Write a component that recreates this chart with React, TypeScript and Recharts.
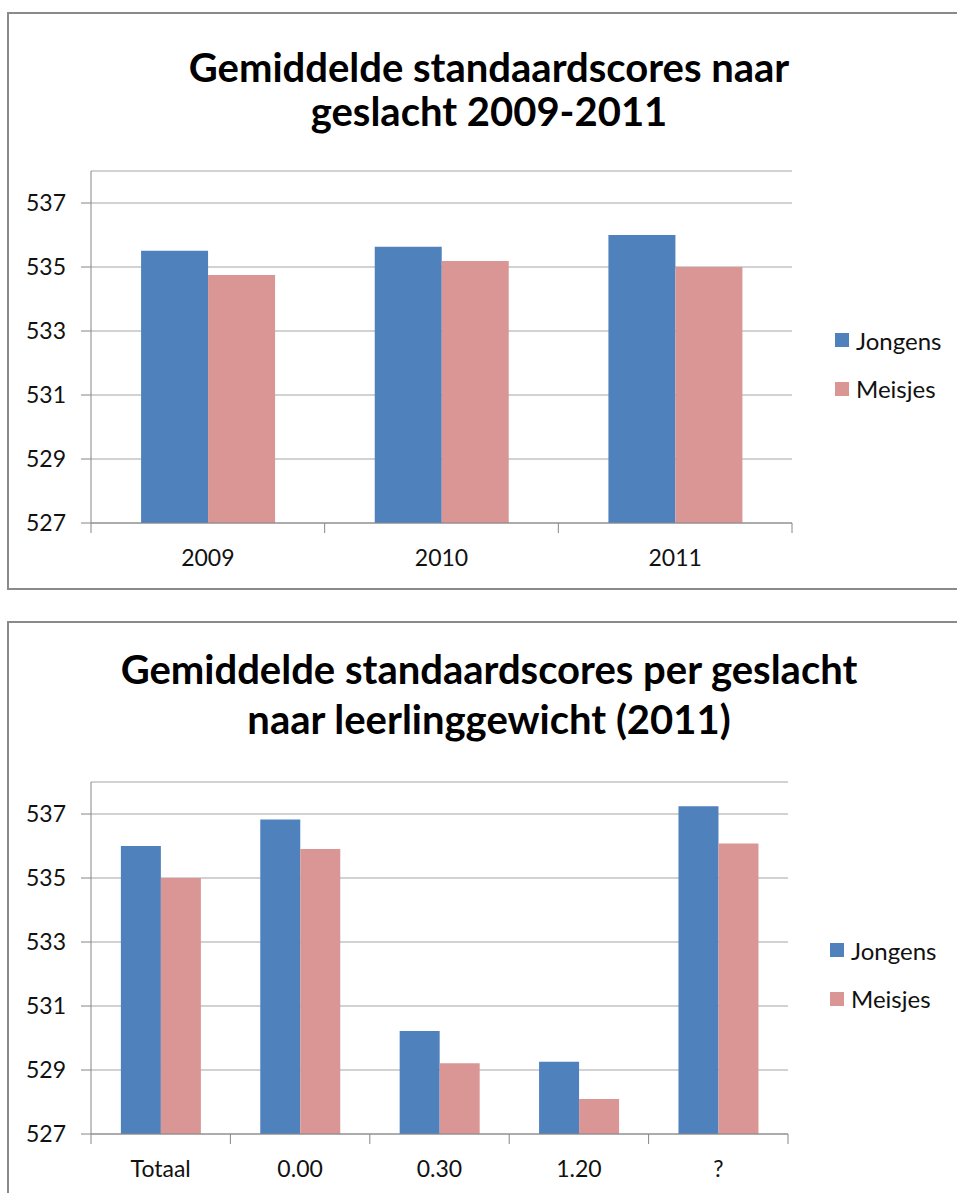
import React from 'react';
import { BarChart, Bar, XAxis, YAxis, CartesianGrid } from 'recharts';

const years = ['2009', '2010', '2011'];
const jongensYears = [535.51, 535.63, 536.0];
const meisjesYears = [534.75, 535.19, 535.0];

const weights = ['Totaal', '0.00', '0.30', '1.20', '?'];
const jongensWeights = [536.0, 536.83, 530.22, 529.26, 537.24];
const meisjesWeights = [535.0, 535.91, 529.21, 528.09, 536.08];

const yTicks = [527, 529, 531, 533, 535, 537];
const yDomain = [527, 538];

const title1 = ['Gemiddelde standaardscores naar', 'geslacht 2009-2011'];
const title2 = ['Gemiddelde standaardscores per geslacht', 'naar leerlinggewicht (2011)'];

const seriesNames = ['Jongens', 'Meisjes'];
const BLUE = '#4F81BD';
const PINK = '#D99694';
const AXIS = '#868686';
const GRID = '#A6A6A6';
const FONT = 'Lato, "Open Sans", sans-serif';

const table1 = years.map((c, i) => ({ cat: c, Jongens: jongensYears[i], Meisjes: meisjesYears[i] }));
const table2 = weights.map((c, i) => ({ cat: c, Jongens: jongensWeights[i], Meisjes: meisjesWeights[i] }));

function makeTick(band: number, n: number) {
  return (props: any) => {
    const { x, y, payload, index } = props;
    const half = band / 2;
    return (
      <g>
        <line x1={x - half} y1={y} x2={x - half} y2={y + 10} stroke={AXIS} strokeWidth={1} />
        {index === n - 1 && (
          <line x1={x + half} y1={y} x2={x + half} y2={y + 10} stroke={AXIS} strokeWidth={1} />
        )}
        <text x={x} y={y + 43} textAnchor="middle" fontSize={23} fontFamily={FONT} fill="#111">
          {payload.value}
        </text>
      </g>
    );
  };
}

function LegendBox({ left, top }: { left: number; top: number }) {
  const colors = [BLUE, PINK];
  return (
    <div style={{ position: 'absolute', left, top, fontFamily: FONT, fontSize: 24, color: '#111' }}>
      {seriesNames.map((n, i) => (
        <div key={n} style={{ position: 'absolute', left: 0, top: i * 48.5, height: 30, whiteSpace: 'nowrap', display: 'flex', alignItems: 'center' }}>
          <span style={{ display: 'inline-block', width: 14, height: 14, background: colors[i], marginRight: 7 }} />
          <span>{n}</span>
        </div>
      ))}
    </div>
  );
}

function Title({ lines, top, lineHeight }: { lines: string[]; top: number; lineHeight: number }) {
  return (
    <div style={{ position: 'absolute', left: 7, width: 964, top, textAlign: 'center', fontFamily: FONT, fontWeight: 700, fontSize: 40, lineHeight: lineHeight + 'px', color: '#000' }}>
      {lines.map((l) => (
        <div key={l}>{l}</div>
      ))}
    </div>
  );
}

function Panel({ data, chartTop, height, plotTop, plotBottom, plotRight, n }: any) {
  const band = (plotRight - 91) / n;
  return (
    <div style={{ position: 'absolute', left: 0, top: chartTop, width: 957, height }}>
      <BarChart
        width={957}
        height={height}
        data={data}
        margin={{ top: plotTop - chartTop, right: 957 - plotRight, left: 0, bottom: 0 }}
        barCategoryGap="21.43%"
        barGap={0}
      >
        <CartesianGrid vertical={false} stroke={GRID} strokeWidth={1.2} />
        <XAxis
          dataKey="cat"
          height={chartTop + height - plotBottom}
          tickSize={0}
          tickMargin={0}
          axisLine={{ stroke: AXIS }}
          tickLine={false}
          interval={0}
          tick={makeTick(band, n)}
        />
        <YAxis
          width={91}
          domain={yDomain}
          ticks={yTicks}
          allowDataOverflow
          tickSize={10}
          tickMargin={15}
          axisLine={{ stroke: AXIS }}
          tickLine={{ stroke: AXIS }}
          tick={{ fontSize: 23, fontFamily: FONT, fill: '#111' }}
        />
        <Bar dataKey="Jongens" fill={BLUE} isAnimationActive={false} />
        <Bar dataKey="Meisjes" fill={PINK} isAnimationActive={false} />
      </BarChart>
    </div>
  );
}

export default function App() {
  return (
    <div style={{ position: 'absolute', left: 0, top: 0, width: 957, height: 1193, overflow: 'hidden', background: '#fff' }}>
      <div style={{ position: 'absolute', left: 7, top: 12, width: 964, height: 578, border: '2px solid #8a8a8a', boxSizing: 'border-box' }} />
      <div style={{ position: 'absolute', left: 7, top: 621, width: 964, height: 600, border: '2px solid #8a8a8a', boxSizing: 'border-box' }} />
      <Title lines={title1} top={45} lineHeight={44} />
      <Title lines={title2} top={644} lineHeight={50} />
      <Panel data={table1} chartTop={0} height={600} plotTop={171} plotBottom={523} plotRight={792} n={3} />
      <Panel data={table2} chartTop={610} height={583} plotTop={782} plotBottom={1134} plotRight={788} n={5} />
      <LegendBox left={835} top={325} />
      <LegendBox left={830} top={935} />
    </div>
  );
}
